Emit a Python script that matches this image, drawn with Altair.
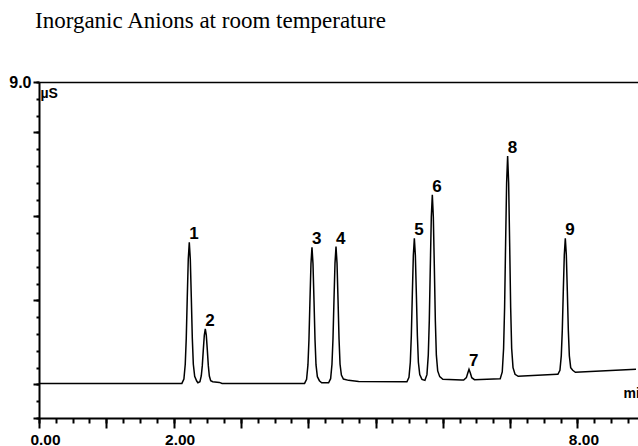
import altair as alt
import pandas as pd

# Chromatogram trace (retention time in min, conductivity in µS)
trace_t = [
    0.00, 2.10,
    2.123, 2.153, 2.173, 2.188, 2.203, 2.218, 2.233, 2.248, 2.263, 2.278, 2.293, 2.313, 2.343,
    2.361, 2.391, 2.411, 2.426, 2.441, 2.456, 2.471, 2.486, 2.501, 2.516, 2.531, 2.551, 2.581, 2.68, 2.72,
    3.90,
    3.946, 3.976, 3.996, 4.011, 4.026, 4.041, 4.056, 4.071, 4.086, 4.101, 4.116, 4.136, 4.166, 4.20,
    4.303, 4.333, 4.353, 4.368, 4.383, 4.398, 4.413, 4.428, 4.443, 4.458, 4.473, 4.493, 4.523, 4.60, 4.75,
    5.45,
    5.467, 5.497, 5.517, 5.532, 5.547, 5.562, 5.577, 5.592, 5.607, 5.622, 5.637, 5.657, 5.69, 5.734,
    5.764, 5.784, 5.799, 5.814, 5.829, 5.844, 5.859, 5.874, 5.889, 5.904, 5.924, 5.954, 6.00,
    6.28, 6.31, 6.35, 6.37, 6.389, 6.41, 6.43, 6.47,
    6.85,
    6.853, 6.883, 6.903, 6.918, 6.933, 6.948, 6.963, 6.978, 6.993, 7.008, 7.023, 7.043, 7.073, 7.12,
    7.70,
    7.710, 7.740, 7.760, 7.775, 7.790, 7.805, 7.820, 7.835, 7.850, 7.865, 7.880, 7.900, 7.930, 7.97,
    8.87,
]
trace_v = [
    0.03, 0.03,
    0.03, 0.16, 0.60, 1.37, 2.59, 3.73, 4.23, 3.73, 2.59, 1.37, 0.60, 0.24, 0.10,
    0.05, 0.08, 0.25, 0.55, 1.02, 1.46, 1.65, 1.46, 1.02, 0.55, 0.25, 0.11, 0.08, 0.06, 0.03,
    0.03,
    0.03, 0.15, 0.58, 1.33, 2.50, 3.59, 4.08, 3.59, 2.50, 1.33, 0.58, 0.23, 0.11, 0.05,
    0.05, 0.17, 0.60, 1.35, 2.52, 3.61, 4.10, 3.61, 2.52, 1.35, 0.60, 0.28, 0.16, 0.12, 0.09,
    0.08,
    0.08, 0.21, 0.66, 1.45, 2.68, 3.84, 4.35, 3.84, 2.68, 1.45, 0.66, 0.29, 0.15, 0.12,
    0.29, 0.87, 1.89, 3.49, 4.98, 5.64, 4.98, 3.49, 1.89, 0.87, 0.40, 0.23, 0.15,
    0.13, 0.13, 0.20, 0.33, 0.45, 0.33, 0.20, 0.14,
    0.17,
    0.17, 0.37, 1.07, 2.29, 4.21, 6.00, 6.80, 6.00, 4.21, 2.29, 1.07, 0.50, 0.30, 0.24,
    0.30,
    0.30, 0.42, 0.85, 1.60, 2.77, 3.86, 4.35, 3.86, 2.77, 1.60, 0.85, 0.50, 0.42, 0.36,
    0.45,
]

# Peak labels
peak_ids = ["1", "2", "3", "4", "5", "6", "7", "8", "9"]
peak_t = [2.233, 2.471, 4.056, 4.413, 5.577, 5.844, 6.389, 6.963, 7.820]
peak_v = [4.23, 1.65, 4.08, 4.10, 4.35, 5.64, 0.45, 6.80, 4.35]

# Axis ticks
x_major = [0, 1, 2, 3, 4, 5, 6, 7, 8]
x_labelled = [0, 2, 8]
x_minor = [i * 0.25 for i in range(36)]
y_major = [-1, 0, 2.5, 5, 7.5, 9]
y_minor = [-1 + i * 0.5 for i in range(21)]

x_domain = [0, 8.9]
y_domain = [-1, 9]

trace = pd.DataFrame({"t": trace_t, "v": trace_v})
peaks = pd.DataFrame({"id": peak_ids, "t": peak_t, "v": peak_v})

xs = alt.Scale(domain=x_domain, nice=False, zero=False)
ys = alt.Scale(domain=y_domain, nice=False, zero=False)

lab_expr = " || ".join(f"datum.value == {v}" for v in x_labelled)

x_major_axis = alt.Axis(
    orient="bottom", values=x_major, tickSize=10, tickWidth=2, tickColor="black",
    domainColor="black", domainWidth=2, grid=False,
    labelExpr=f"({lab_expr}) ? format(datum.value, '.2f') : ''",
    labelFont="Liberation Sans", labelFontSize=15.5, labelFontWeight="bold",
    labelColor="black", labelPadding=4, labelOffset=6, labelOverlap=False, labelFlush=False,
    title="min", titleFont="Liberation Sans", titleFontSize=14, titleFontWeight="bold",
    titleColor="black", titleX=584, titleY=-21, titleAlign="left", titleBaseline="alphabetic",
    titleAnchor="start",
)
y_major_axis = alt.Axis(
    orient="left", values=y_major, tickSize=6, tickWidth=2, tickColor="black",
    domainColor="black", domainWidth=2, grid=False,
    labelExpr="datum.value == 9 ? format(datum.value, '.1f') : ''",
    labelFont="Liberation Sans", labelFontSize=16, labelFontWeight="bold",
    labelColor="black", labelPadding=2, labelOverlap=False, labelFlush=False,
    title="µS", titleFont="Liberation Sans", titleFontSize=14, titleFontWeight="bold",
    titleColor="black", titleAngle=0, titleX=1, titleY=15, titleAlign="left",
    titleBaseline="alphabetic", titleAnchor="start",
)

line = alt.Chart(trace).mark_line(color="black", strokeWidth=1.5).encode(
    x=alt.X("t:Q", scale=xs, axis=x_major_axis),
    y=alt.Y("v:Q", scale=ys, axis=y_major_axis),
)

minor = alt.Chart(trace).mark_line(opacity=0).encode(
    x=alt.X("t:Q", scale=xs, axis=alt.Axis(
        orient="bottom", values=x_minor, tickSize=5, tickWidth=2, tickColor="black",
        domain=False, labels=False, grid=False, title=None)),
    y=alt.Y("v:Q", scale=ys, axis=alt.Axis(
        orient="left", values=y_minor, tickSize=3, tickWidth=2, tickColor="black",
        domain=False, labels=False, grid=False, title=None)),
)

frame = alt.Chart(trace).mark_line(opacity=0).encode(
    x=alt.X("t:Q", scale=xs, axis=alt.Axis(
        orient="top", ticks=False, labels=False, grid=False, title=None,
        domainColor="black", domainWidth=1.5)),
    y=alt.Y("v:Q", scale=ys, axis=None),
)

labels = alt.Chart(peaks).mark_text(
    align="left", baseline="alphabetic", dy=-3, font="Liberation Sans",
    fontSize=17, fontWeight="bold", color="black",
).encode(
    x=alt.X("t:Q", scale=xs, axis=None),
    y=alt.Y("v:Q", scale=ys, axis=None),
    text="id:N",
)

chart = alt.layer(line, minor, frame, labels).resolve_axis(
    x="independent", y="independent"
).properties(
    width=599, height=336,
    autosize=alt.AutoSizeParams(type="none"),
    padding={"left": 39, "top": 82, "right": 0, "bottom": 28},
    background="white",
    title=alt.TitleParams(
        "Inorganic Anions at room temperature", anchor="start", frame="group",
        font="Liberation Serif", fontSize=23, fontWeight="normal", color="black",
        offset=41, dx=-4,
    ),
).configure_view(stroke=None)

chart.save("out.html", embed_options={"renderer": "svg", "actions": False})
